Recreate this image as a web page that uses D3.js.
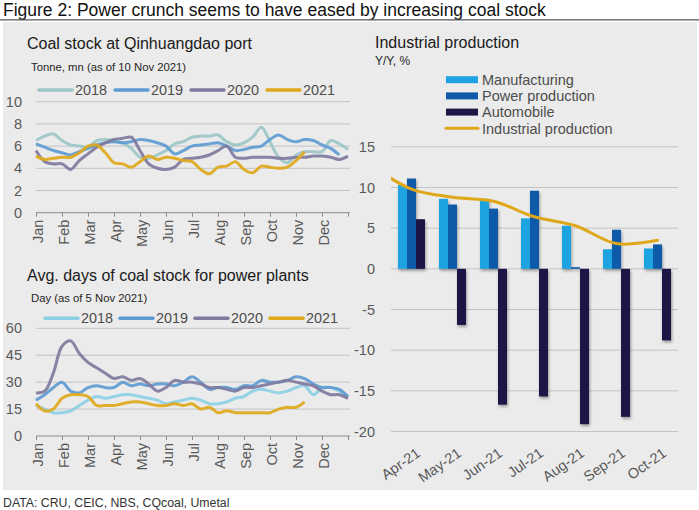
<!DOCTYPE html>
<html>
<head>
<meta charset="utf-8">
<script src="https://cdn.jsdelivr.net/npm/d3@7"></script>
<style>
body { margin: 0; background: #fff; }
text { font-family: "Liberation Sans", Arial, sans-serif; }
</style>
</head>
<body>
<script>
// month axis for the two left charts, points every 1/3 month
let months = ["Jan", "Feb", "Mar", "Apr", "May", "Jun", "Jul", "Aug", "Sep", "Oct", "Nov", "Dec"];
let yearNames = ["2018", "2019", "2020", "2021"];

// coal stock at Qinhuangdao port, tonne mn
let port2018 = [6.5, 6.9, 7.1, 6.5, 6.1, 6.0, 5.9, 6.5, 6.6, 6.5, 6.3, 5.8, 5.0, 4.9, 5.2, 5.6, 6.2, 6.4, 6.8, 6.9, 6.9, 7.0, 6.4, 6.1, 6.3, 6.8, 7.7, 6.4, 5.0, 4.5, 5.2, 5.5, 5.5, 5.5, 6.5, 6.2, 5.7];
let port2019 = [6.2, 5.9, 5.6, 5.4, 5.2, 5.5, 5.8, 6.1, 6.3, 6.4, 6.3, 6.4, 6.6, 6.5, 6.3, 6.0, 5.3, 5.6, 6.0, 6.1, 6.2, 6.3, 6.0, 5.6, 5.7, 5.9, 6.0, 6.6, 7.0, 6.6, 6.4, 6.6, 6.5, 6.1, 5.8, 5.2];
let port2020 = [5.6, 4.6, 4.4, 4.4, 3.9, 4.7, 5.3, 5.9, 6.3, 6.6, 6.7, 6.8, 5.6, 4.4, 4.0, 3.9, 4.1, 4.8, 4.9, 5.0, 5.2, 5.6, 6.0, 5.0, 4.9, 5.0, 5.0, 5.0, 4.9, 4.9, 5.0, 5.0, 5.1, 5.1, 5.0, 4.8, 5.1];
let port2021 = [5.1, 4.8, 4.9, 5.0, 5.0, 5.4, 6.0, 6.1, 5.4, 4.5, 4.4, 4.1, 4.6, 5.1, 4.8, 5.0, 4.9, 4.7, 4.6, 3.9, 3.5, 4.1, 4.2, 4.6, 3.9, 3.6, 4.2, 4.1, 4.0, 4.1, 4.7, 5.5];

// avg days of coal stock for power plants
let days2018 = [17, 15, 13, 13, 14, 17, 20, 22, 21, 22, 23, 23, 22, 21, 20, 18, 19, 20, 21, 20, 18, 18, 19, 21, 22, 25, 26, 25, 24, 25, 27, 28, 23, 27, 27, 25, 22];
let days2019 = [20, 23, 27, 30, 25, 24, 27, 28, 27, 27, 30, 28, 29, 28, 29, 29, 28, 30, 33, 30, 26, 27, 27, 26, 28, 28, 31, 30, 30, 31, 33, 32, 29, 27, 27, 26, 22];
let days2020 = [24, 25, 35, 50, 53, 46, 41, 38, 35, 32, 33, 31, 32, 29, 25, 27, 31, 30, 30, 29, 27, 27, 26, 25, 27, 27, 28, 29, 30, 31, 30, 29, 28, 25, 23, 23, 21];
let days2021 = [18, 14, 15, 21, 23, 23, 22, 17, 17, 17, 18, 19, 19, 18, 17, 17, 18, 17, 18, 15, 16, 13, 14, 13, 13, 13, 13, 13, 15, 16, 16, 19];

// industrial production, y/y %
let ipMonths = ["Apr-21", "May-21", "Jun-21", "Jul-21", "Aug-21", "Sep-21", "Oct-21"];
let barNames = ["Manufacturing", "Power production", "Automobile"];
let manufacturing = [10.3, 8.6, 8.6, 6.2, 5.3, 2.4, 2.5];
let powerProd = [11.1, 7.9, 7.4, 9.6, 0.2, 4.8, 3.0];
let automobile = [6.1, -6.9, -16.7, -15.7, -19.1, -18.2, -8.8];
let ipLineName = "Industrial production";
let ipPrev = 12.8; // Mar-21, just off the left edge
let ipTotal = [9.8, 8.8, 8.3, 6.4, 5.3, 3.1, 3.5];

let w = 699, h = 510;
let tickGrey = "#595959";
let gridCol = "#c3c3c3";

let svg = d3.select("body").append("svg")
    .attr("width", w)
    .attr("height", h);

svg.append("text")
    .attr("x", 3).attr("y", 15.8)
    .attr("font-size", 17.5).attr("fill", "#111")
    .text("Figure 2: Power crunch seems to have eased by increasing coal stock");

svg.append("line")
    .attr("x1", 0).attr("x2", w)
    .attr("y1", 19.8).attr("y2", 19.8)
    .attr("stroke", "#555").attr("stroke-width", 1.2);

svg.append("rect")
    .attr("x", 3).attr("y", 22)
    .attr("width", 694).attr("height", 468)
    .attr("fill", "#ebebeb");

svg.append("text")
    .attr("x", 3).attr("y", 507)
    .attr("font-size", 12.3).attr("fill", "#333")
    .text("DATA: CRU, CEIC, NBS, CQcoal, Umetal");

let defs = svg.append("defs");
defs.append("filter").attr("id", "shadow")
    .attr("x", "-50%").attr("y", "-10%").attr("width", "200%").attr("height", "130%")
    .append("feDropShadow")
    .attr("dx", 1).attr("dy", 2).attr("stdDeviation", 1.5)
    .attr("flood-color", "#000").attr("flood-opacity", 0.35);

// ---------- left charts ----------
let xMonth = d3.scaleLinear().domain([0, 12]).range([36, 348]);

function yearPanel(p) {
    let g = svg.append("g");
    let y = d3.scaleLinear().domain([0, p.max]).range([p.y0, p.y1]);

    g.append("text").attr("x", 27).attr("y", p.titleY)
        .attr("font-size", 16).attr("fill", "#1a1a1a").text(p.title);
    g.append("text").attr("x", 31).attr("y", p.subY)
        .attr("font-size", 11.3).attr("fill", "#262626").text(p.sub);

    let ticks = d3.range(0, p.max + 1, p.step);
    g.selectAll(".grid").data(ticks.filter(d => d > 0)).enter()
        .append("line")
        .attr("x1", 36).attr("x2", 350)
        .attr("y1", d => y(d)).attr("y2", d => y(d))
        .attr("stroke", gridCol).attr("stroke-width", 1);

    g.selectAll(".ytick").data(ticks).enter()
        .append("text")
        .attr("x", 22).attr("y", d => y(d)).attr("dy", "0.35em")
        .attr("text-anchor", "end")
        .attr("font-size", 14.5).attr("fill", tickGrey)
        .text(d => d);

    // category axis with month ticks
    let xAxis = d3.axisBottom(xMonth)
        .tickValues(d3.range(0, 13))
        .tickSize(4)
        .tickFormat("");
    let ax = g.append("g")
        .attr("transform", "translate(0," + y(0) + ")")
        .call(xAxis);
    ax.select(".domain").attr("stroke", "#8c8c8c").attr("d", "M36,0H350");
    ax.selectAll(".tick line").attr("stroke", "#8c8c8c");

    g.selectAll(".mlab").data(months).enter()
        .append("text")
        .attr("transform", (d, i) => "translate(" + (xMonth(i) + 2) + "," + (y(0) + 7) + ") rotate(-90)")
        .attr("text-anchor", "end")
        .attr("dy", "0.35em")
        .attr("font-size", 14.5).attr("fill", tickGrey)
        .text(d => d);

    let line = d3.line()
        .x((d, i) => xMonth(i / 3))
        .y(d => y(d))
        .curve(d3.curveCatmullRom.alpha(0.5));

    p.series.forEach(s => {
        g.append("path")
            .datum(s.values)
            .attr("d", line)
            .attr("fill", "none")
            .attr("stroke", s.color)
            .attr("stroke-width", 3)
            .attr("stroke-linejoin", "round")
            .attr("stroke-opacity", 0.92);
    });

    // legend
    p.series.forEach((s, i) => {
        let lx = p.legX + i * p.legStep;
        g.append("line")
            .attr("x1", lx).attr("x2", lx + 33)
            .attr("y1", p.legY).attr("y2", p.legY)
            .attr("stroke", s.color).attr("stroke-width", 3.5)
            .attr("stroke-linecap", "round");
        g.append("text")
            .attr("x", lx + 36).attr("y", p.legY).attr("dy", "0.36em")
            .attr("font-size", 14.4).attr("fill", "#4d4d4d")
            .text(s.name);
    });
}

yearPanel({
    title: "Coal stock at Qinhuangdao port",
    titleY: 48.5,
    sub: "Tonne, mn (as of 10 Nov 2021)",
    subY: 70.5,
    max: 10, step: 2,
    y0: 212.7, y1: 101.7,
    legX: 39, legStep: 76, legY: 90,
    series: [
        { name: yearNames[0], values: port2018, color: "#9cc5c7" },
        { name: yearNames[1], values: port2019, color: "#5f9bd3" },
        { name: yearNames[2], values: port2020, color: "#7f7a9d" },
        { name: yearNames[3], values: port2021, color: "#dfa81a" }
    ]
});

yearPanel({
    title: "Avg. days of coal stock for power plants",
    titleY: 280.8,
    sub: "Day (as of 5 Nov 2021)",
    subY: 302,
    max: 60, step: 15,
    y0: 436, y1: 328.3,
    legX: 45, legStep: 75, legY: 318.3,
    series: [
        { name: yearNames[0], values: days2018, color: "#8ccfe4" },
        { name: yearNames[1], values: days2019, color: "#5f9bd3" },
        { name: yearNames[2], values: days2020, color: "#7f7a9d" },
        { name: yearNames[3], values: days2021, color: "#dfa81a" }
    ]
});

// ---------- right chart ----------
let barColors = ["#1fa3e0", "#0f5aa8", "#1d1747"];
let ipColor = "#dfa81a";

let gr = svg.append("g");
gr.append("text").attr("x", 375).attr("y", 48.2)
    .attr("font-size", 16).attr("fill", "#1a1a1a").text("Industrial production");
gr.append("text").attr("x", 375).attr("y", 65.3)
    .attr("font-size", 12).attr("fill", "#262626").text("Y/Y, %");

let yR = d3.scaleLinear().domain([-20, 15]).range([431.5, 146.8]);
let xB = d3.scaleBand().domain(ipMonths).range([391, 678])
    .paddingInner(0.341).paddingOuter(0.17);
let xSub = d3.scaleBand().domain(barNames).range([0, xB.bandwidth()]);

let rTicks = d3.range(-20, 16, 5);
gr.selectAll(".rgrid").data(rTicks).enter()
    .append("line")
    .attr("x1", 391).attr("x2", 678)
    .attr("y1", d => yR(d)).attr("y2", d => yR(d))
    .attr("stroke", gridCol).attr("stroke-width", 1);
gr.selectAll(".rtick").data(rTicks).enter()
    .append("text")
    .attr("x", 375).attr("y", d => yR(d)).attr("dy", "0.35em")
    .attr("text-anchor", "end")
    .attr("font-size", 14.5).attr("fill", tickGrey)
    .text(d => d);

let barSeries = [manufacturing, powerProd, automobile];
let barRows = [];
ipMonths.forEach((m, i) => {
    barSeries.forEach((vals, j) => barRows.push({ m: m, s: barNames[j], v: vals[i], c: barColors[j] }));
});

gr.append("g").attr("filter", "url(#shadow)")
    .selectAll("rect").data(barRows).enter()
    .append("rect")
    .attr("x", d => xB(d.m) + xSub(d.s))
    .attr("width", xSub.bandwidth())
    .attr("y", d => yR(Math.max(0, d.v)))
    .attr("height", d => Math.abs(yR(d.v) - yR(0)))
    .attr("fill", d => d.c);

// smoothed IP line, clipped to the plot area
defs.append("clipPath").attr("id", "ipclip")
    .append("rect").attr("x", 391).attr("y", 100).attr("width", 287).attr("height", 340);

let ipPts = [{ x: xB(ipMonths[0]) + xB.bandwidth() / 2 - xB.step(), v: ipPrev }]
    .concat(ipTotal.map((v, i) => ({ x: xB(ipMonths[i]) + xB.bandwidth() / 2, v: v })));
gr.append("path")
    .datum(ipPts)
    .attr("clip-path", "url(#ipclip)")
    .attr("d", d3.line().x(d => d.x).y(d => yR(d.v)).curve(d3.curveCatmullRom.alpha(0.5)))
    .attr("fill", "none")
    .attr("stroke", ipColor)
    .attr("stroke-width", 3)
    .attr("stroke-linecap", "round");

gr.selectAll(".blab").data(ipMonths).enter()
    .append("text")
    .attr("transform", d => "translate(" + (xB(d) + xB.bandwidth() / 2 + 4) + ",447) rotate(-35)")
    .attr("text-anchor", "end")
    .attr("dy", "0.7em")
    .attr("font-size", 14.5).attr("fill", tickGrey)
    .text(d => d);

// legend
let legItems = barNames.map((n, i) => ({ n: n, c: barColors[i], type: "bar" }))
    .concat([{ n: ipLineName, c: ipColor, type: "line" }]);
legItems.forEach((d, i) => {
    let ly = 79.7 + i * 16.2;
    if (d.type === "bar") {
        gr.append("rect").attr("x", 446).attr("y", ly - 3.5)
            .attr("width", 32).attr("height", 7).attr("fill", d.c);
    } else {
        gr.append("line").attr("x1", 446).attr("x2", 478)
            .attr("y1", ly).attr("y2", ly)
            .attr("stroke", d.c).attr("stroke-width", 3)
            .attr("stroke-linecap", "round");
    }
    gr.append("text").attr("x", 482).attr("y", ly).attr("dy", "0.36em")
        .attr("font-size", 14.5).attr("fill", "#4d4d4d")
        .text(d.n);
});
</script>
</body>
</html>
